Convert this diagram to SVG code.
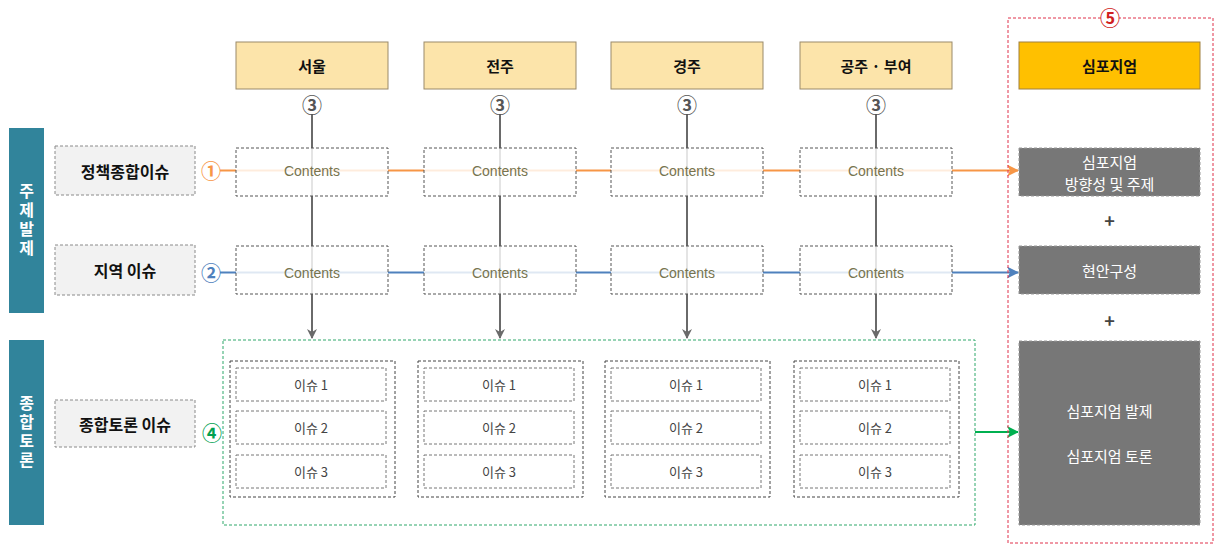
<svg xmlns="http://www.w3.org/2000/svg" width="1215" height="546" viewBox="0 0 1215 546">
<defs>
<style>
text{font-family:"Noto Sans CJK KR","Noto Sans",sans-serif;text-anchor:middle;dominant-baseline:central}
.bar{fill:#31849B}
.bart{fill:#fff;font-size:16px;font-weight:bold;writing-mode:vertical-rl;letter-spacing:3px;dominant-baseline:auto}
.lab{fill:#F2F2F2;stroke:#8a8a8a;stroke-width:1;stroke-dasharray:3 2}
.labt{fill:#111;font-size:16px;font-weight:bold}
.hdr{fill:#FCE4AA;stroke:#9a8a6a;stroke-width:1}
.hdrt{fill:#111;font-size:15px;font-weight:bold}
.cont{fill:#fff;fill-opacity:0.82;stroke:#555;stroke-width:1;stroke-dasharray:3 2}
.contt{fill:#77744f;font-size:14px;font-family:"Liberation Sans",sans-serif}
.col{fill:none;stroke:#444;stroke-width:1;stroke-dasharray:3 2}
.item{fill:#fff;stroke:#777;stroke-width:1;stroke-dasharray:3 2}
.itemt{fill:#444;font-size:13px}
.gray{fill:#777;stroke:#999;stroke-width:1;stroke-dasharray:3 2}
.grayt{fill:#fff;font-size:15px}
.num{font-size:20px;font-weight:bold}
</style>
<marker id="ag" markerWidth="10" markerHeight="10" refX="9" refY="5" orient="auto" markerUnits="userSpaceOnUse"><path d="M0,0 L10,5 L0,10 L3,5 Z" fill="#6a6a6a"/></marker>
<marker id="ao" markerWidth="12" markerHeight="12" refX="11" refY="6" orient="auto" markerUnits="userSpaceOnUse"><path d="M0,0 L12,6 L0,12 L3,6 Z" fill="#F79646"/></marker>
<marker id="ab" markerWidth="12" markerHeight="12" refX="11" refY="6" orient="auto" markerUnits="userSpaceOnUse"><path d="M0,0 L12,6 L0,12 L3,6 Z" fill="#4F81BD"/></marker>
<marker id="agr" markerWidth="12" markerHeight="12" refX="11" refY="6" orient="auto" markerUnits="userSpaceOnUse"><path d="M0,0 L12,6 L0,12 L3,6 Z" fill="#00B050"/></marker>
</defs>
<rect width="1215" height="546" fill="#fff"/>

<g id="bar-jeje"><rect class="bar" x="9" y="128" width="35" height="185"/>
<text class="bart" x="26.5" y="220.5">주제발제</text></g>
<g id="bar-toron"><rect class="bar" x="9" y="340" width="35" height="185"/>
<text class="bart" x="26.5" y="432.5">종합토론</text></g>

<g id="lab1"><rect class="lab" x="55" y="146" width="140" height="49"/><text class="labt" x="125" y="170.5">정책종합이슈</text></g>
<g id="lab2"><rect class="lab" x="55" y="245" width="140" height="50"/><text class="labt" x="125" y="270">지역 이슈</text></g>
<g id="lab3"><rect class="lab" x="55" y="400" width="140" height="47"/><text class="labt" x="125" y="423.5">종합토론 이슈</text></g>

<g id="connectors">
<line x1="220" y1="170.5" x2="1018" y2="170.5" stroke="#F79646" stroke-width="2" marker-end="url(#ao)"/>
<line x1="220" y1="272.5" x2="1018" y2="272.5" stroke="#4F81BD" stroke-width="2" marker-end="url(#ab)"/>
<line x1="975" y1="432" x2="1018" y2="432" stroke="#00B050" stroke-width="2" marker-end="url(#agr)"/>
<line x1="312" y1="114" x2="312" y2="338" stroke="#6a6a6a" stroke-width="2" marker-end="url(#ag)"/>
<line x1="500" y1="114" x2="500" y2="338" stroke="#6a6a6a" stroke-width="2" marker-end="url(#ag)"/>
<line x1="687" y1="114" x2="687" y2="338" stroke="#6a6a6a" stroke-width="2" marker-end="url(#ag)"/>
<line x1="876" y1="114" x2="876" y2="338" stroke="#6a6a6a" stroke-width="2" marker-end="url(#ag)"/>
</g>

<g id="n1"><text class="num" x="211" y="170" fill="#F79646">①</text></g>
<g id="n2"><text class="num" x="211" y="272" fill="#4F81BD">②</text></g>
<g id="n4"><text class="num" x="212" y="432" fill="#00A050">④</text></g>

<g id="hdr-seoul"><rect class="hdr" x="236" y="42" width="152" height="47"/><text class="hdrt" x="312" y="65.5">서울</text><text class="num" x="312" y="104" fill="#555">③</text></g>
<g id="hdr-jeonju"><rect class="hdr" x="424" y="42" width="152" height="47"/><text class="hdrt" x="500" y="65.5">전주</text><text class="num" x="500" y="104" fill="#555">③</text></g>
<g id="hdr-gyeongju"><rect class="hdr" x="611" y="42" width="152" height="47"/><text class="hdrt" x="687" y="65.5">경주</text><text class="num" x="687" y="104" fill="#555">③</text></g>
<g id="hdr-gongju"><rect class="hdr" x="800" y="42" width="152" height="47"/><text class="hdrt" x="876" y="65.5">공주 · 부여</text><text class="num" x="876" y="104" fill="#555">③</text></g>

<g id="contents-row1">
<rect class="cont" x="236" y="148" width="152" height="48"/><text class="contt" x="312" y="171">Contents</text>
<rect class="cont" x="424" y="148" width="152" height="48"/><text class="contt" x="500" y="171">Contents</text>
<rect class="cont" x="611" y="148" width="152" height="48"/><text class="contt" x="687" y="171">Contents</text>
<rect class="cont" x="800" y="148" width="152" height="48"/><text class="contt" x="876" y="171">Contents</text>
</g>
<g id="contents-row2">
<rect class="cont" x="236" y="246" width="152" height="48"/><text class="contt" x="312" y="273">Contents</text>
<rect class="cont" x="424" y="246" width="152" height="48"/><text class="contt" x="500" y="273">Contents</text>
<rect class="cont" x="611" y="246" width="152" height="48"/><text class="contt" x="687" y="273">Contents</text>
<rect class="cont" x="800" y="246" width="152" height="48"/><text class="contt" x="876" y="273">Contents</text>
</g>

<g id="discussion">
<rect x="223" y="340" width="752" height="185" fill="none" stroke="#2EA86A" stroke-width="1" stroke-dasharray="3 2"/>
<rect class="col" x="230" y="361" width="165" height="136"/>
<rect class="item" x="236" y="368" width="150" height="33"/><text class="itemt" x="311" y="384.5">이슈 1</text>
<rect class="item" x="236" y="411" width="150" height="33"/><text class="itemt" x="311" y="427.5">이슈 2</text>
<rect class="item" x="236" y="455" width="150" height="33"/><text class="itemt" x="311" y="471.5">이슈 3</text>
<rect class="col" x="418" y="361" width="165" height="136"/>
<rect class="item" x="424" y="368" width="150" height="33"/><text class="itemt" x="499" y="384.5">이슈 1</text>
<rect class="item" x="424" y="411" width="150" height="33"/><text class="itemt" x="499" y="427.5">이슈 2</text>
<rect class="item" x="424" y="455" width="150" height="33"/><text class="itemt" x="499" y="471.5">이슈 3</text>
<rect class="col" x="605" y="361" width="165" height="136"/>
<rect class="item" x="611" y="368" width="150" height="33"/><text class="itemt" x="686" y="384.5">이슈 1</text>
<rect class="item" x="611" y="411" width="150" height="33"/><text class="itemt" x="686" y="427.5">이슈 2</text>
<rect class="item" x="611" y="455" width="150" height="33"/><text class="itemt" x="686" y="471.5">이슈 3</text>
<rect class="col" x="794" y="361" width="165" height="136"/>
<rect class="item" x="800" y="368" width="150" height="33"/><text class="itemt" x="875" y="384.5">이슈 1</text>
<rect class="item" x="800" y="411" width="150" height="33"/><text class="itemt" x="875" y="427.5">이슈 2</text>
<rect class="item" x="800" y="455" width="150" height="33"/><text class="itemt" x="875" y="471.5">이슈 3</text>
</g>

<g id="symposium">
<rect x="1008" y="18" width="205" height="525" fill="none" stroke="#E0304A" stroke-width="1" stroke-dasharray="3 2"/>
<circle cx="1110" cy="17" r="9" fill="#fff"/>
<text class="num" x="1110" y="17" fill="#D02020">⑤</text>
<rect x="1019" y="42" width="181" height="47" fill="#FFC000" stroke="#a08040" stroke-width="1"/>
<text class="hdrt" x="1109.5" y="65.5">심포지엄</text>
<rect class="gray" x="1019" y="148" width="181" height="48"/>
<text class="grayt" x="1109.5" y="161">심포지엄</text><text class="grayt" x="1109.5" y="183">방향성 및 주제</text>
<text x="1109.5" y="220" font-size="18" font-weight="bold" fill="#444">+</text>
<rect class="gray" x="1019" y="246" width="181" height="48"/>
<text class="grayt" x="1109.5" y="270">현안구성</text>
<text x="1109.5" y="320" font-size="18" font-weight="bold" fill="#444">+</text>
<rect class="gray" x="1019" y="341" width="181" height="184"/>
<text class="grayt" x="1109.5" y="410">심포지엄 발제</text>
<text class="grayt" x="1109.5" y="455">심포지엄 토론</text>
</g>
</svg>
